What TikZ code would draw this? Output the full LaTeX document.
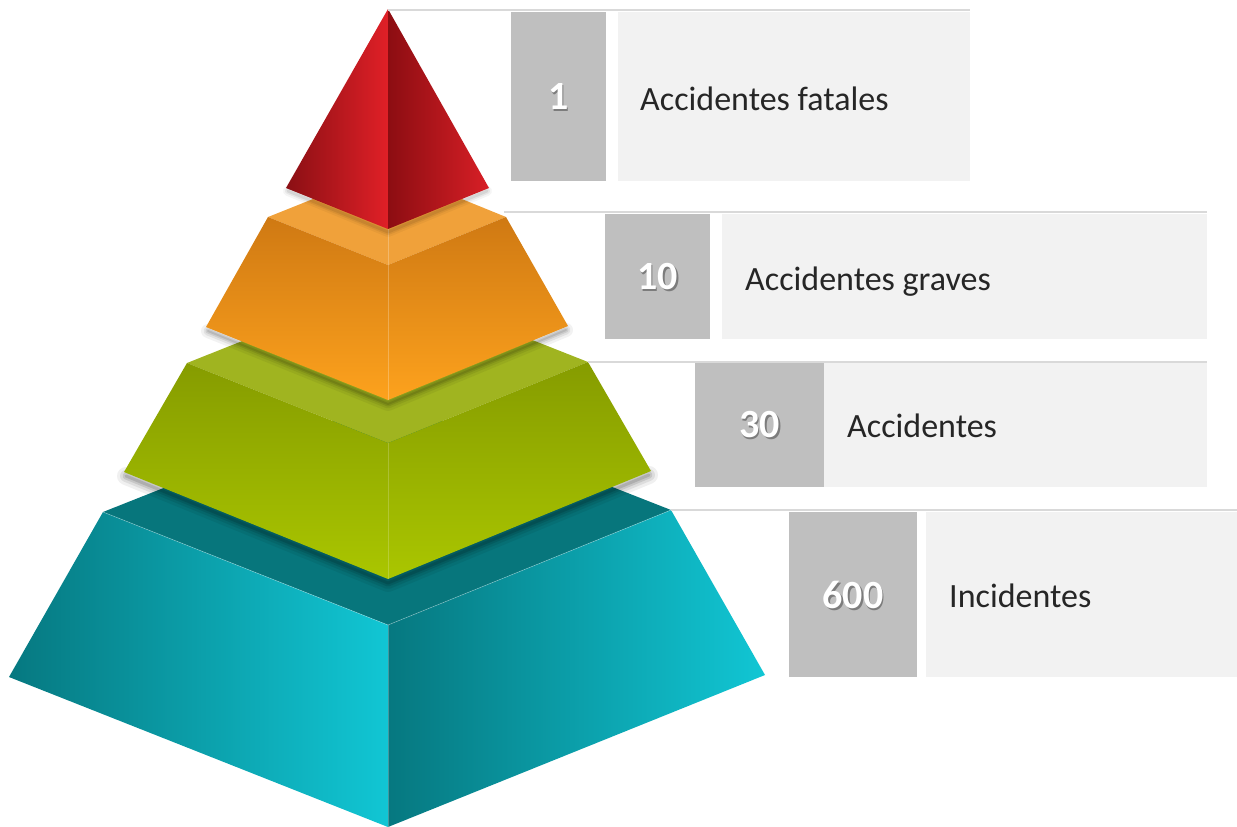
\documentclass[tikz,border=0pt]{standalone}
\usepackage{fontspec}
\setmainfont{Carlito}
\begin{document}
\begin{tikzpicture}[x=1pt,y=-1pt,line join=round]
% palette
\definecolor{redA}{HTML}{8A0F14}
\definecolor{redB}{HTML}{E02027}
\definecolor{redC}{HTML}{8C0D12}
\definecolor{redD}{HTML}{D81F26}
\definecolor{orTop}{HTML}{F0A13A}
\definecolor{orHi}{HTML}{CF7913}
\definecolor{orLo}{HTML}{FDA21D}
\definecolor{grTop}{HTML}{A0B420}
\definecolor{grHi}{HTML}{869C00}
\definecolor{grLo}{HTML}{AAC600}
\definecolor{cyTop}{HTML}{07767C}
\definecolor{cyDark}{HTML}{067880}
\definecolor{cyLight}{HTML}{11C6D4}
\definecolor{boxgray}{HTML}{BFBFBF}
\definecolor{panelgray}{HTML}{F2F2F2}
\definecolor{rulegray}{HTML}{D9D9D9}
\definecolor{labelink}{HTML}{262626}
\tikzset{
  numbox/.style={fill=boxgray,draw=none,inner sep=0pt,outer sep=0pt,anchor=north west},
  panelbox/.style={fill=panelgray,draw=none,inner sep=0pt,outer sep=0pt,anchor=north west},
  numtext/.style={text=white,font=\bfseries\fontsize{40}{48}\selectfont,inner sep=0pt},
  numshade/.style={text=black,opacity=0.35,font=\bfseries\fontsize{40}{48}\selectfont,inner sep=0pt},
  lbl/.style={text=labelink,font=\fontsize{34}{40}\selectfont,inner sep=0pt,anchor=base west},
  rowrule/.style={draw=rulegray,line width=2pt},
  dropshade/.style={draw=black,line cap=round,opacity=#1},
}
\useasboundingbox (0,0) rectangle (1237,827);

% ---------- pyramid: bottom tier (cyan) ----------
\fill[cyTop] (103,512) -- (388,399) -- (671,510) -- (388,625) -- cycle;
\shade[left color=cyDark,right color=cyLight] (103,512) -- (388,625) -- (388,827) -- (9,677) -- cycle;
\shade[left color=cyDark,right color=cyLight] (388,625) -- (671,510) -- (765,675) -- (388,827) -- cycle;
\draw[white,opacity=0.35,line width=0.6pt] (103,512) -- (388,625) -- (671,510);
\draw[white,opacity=0.25,line width=0.6pt] (388,625) -- (388,827);

% shadow of the green tier
\foreach \w/\o in {18/0.06,12/0.08,7/0.10,3/0.12}
  \draw[dropshade=\o,line width=\w pt] (126,476) -- (388,583) -- (649,475);

% ---------- green tier ----------
\fill[grTop] (187,363) -- (388,283) -- (588,362) -- (388,443) -- cycle;
\shade[top color=grHi,bottom color=grLo] (187,363) -- (388,443) -- (388,579) -- (124,472) -- cycle;
\shade[top color=grHi,bottom color=grLo] (388,443) -- (588,362) -- (651,471) -- (388,579) -- cycle;
\draw[white,opacity=0.2,line width=0.6pt] (388,443) -- (388,579);

% shadow of the orange tier
\foreach \w/\o in {14/0.05,9/0.07,5/0.09,2/0.10}
  \draw[dropshade=\o,line width=\w pt] (208,331) -- (388,404) -- (566,330);

% ---------- orange tier ----------
\fill[orTop] (268,217) -- (388,169) -- (506,217) -- (388,265) -- cycle;
\shade[top color=orHi,bottom color=orLo] (268,217) -- (388,265) -- (388,400) -- (206,327) -- cycle;
\shade[top color=orHi,bottom color=orLo] (388,265) -- (506,217) -- (568,326) -- (388,400) -- cycle;
\draw[white,opacity=0.25,line width=0.6pt] (388,169) -- (388,400);

% shadow of the top
\foreach \w/\o in {10/0.04,6/0.06,3/0.08}
  \draw[dropshade=\o,line width=\w pt] (288,191) -- (388,232) -- (487,191);

% ---------- top (red) ----------
\shade[left color=redA,right color=redB] (388,9) -- (286,188) -- (388,229) -- cycle;
\shade[left color=redC,right color=redD] (388,9) -- (489,188) -- (388,229) -- cycle;

% ---------- rows ----------
\coordinate (r1a) at (388,10);  \coordinate (r1b) at (970,10);
\coordinate (r2a) at (504,212); \coordinate (r2b) at (1207,212);
\coordinate (r3a) at (588,362); \coordinate (r3b) at (1207,362);
\coordinate (r4a) at (671,510); \coordinate (r4b) at (1237,510);
\draw[rowrule] (r1a) -- (r1b);
\draw[rowrule] (r2a) -- (r2b);
\draw[rowrule] (r3a) -- (r3b);
\draw[rowrule] (r4a) -- (r4b);

% row 1
\node[numbox,minimum width=95pt,minimum height=169pt] (b1) at (511,12) {};
\node[panelbox,minimum width=352pt,minimum height=169pt] (p1) at (618,12) {};
\node[numshade] (s1) at ([shift={(1.6,2)}]b1.center) {1};
\node[numtext] (n1) at (b1.center) {1};
\node[lbl] (t1) at (640,110) {Accidentes fatales};

% row 2
\node[numbox,minimum width=105pt,minimum height=125pt] (b2) at (605,214) {};
\node[panelbox,minimum width=485pt,minimum height=125pt] (p2) at (722,214) {};
\node[numshade] (s2) at ([shift={(1.6,2)}]b2.center) {10};
\node[numtext] (n2) at (b2.center) {10};
\node[lbl] (t2) at (745,290) {Accidentes graves};

% row 3
\node[numbox,minimum width=129pt,minimum height=124pt] (b3) at (695,363) {};
\node[panelbox,minimum width=383pt,minimum height=124pt] (p3) at (824,363) {};
\node[numshade] (s3) at ([shift={(1.6,2)}]b3.center) {30};
\node[numtext] (n3) at (b3.center) {30};
\node[lbl] (t3) at (847,437) {Accidentes};

% row 4
\node[numbox,minimum width=128pt,minimum height=165pt] (b4) at (789,512) {};
\node[panelbox,minimum width=311pt,minimum height=165pt] (p4) at (926,512) {};
\node[numshade] (s4) at ([shift={(1.6,2)}]b4.center) {600};
\node[numtext] (n4) at (b4.center) {600};
\node[lbl] (t4) at (949,607) {Incidentes};
\end{tikzpicture}
\end{document}
